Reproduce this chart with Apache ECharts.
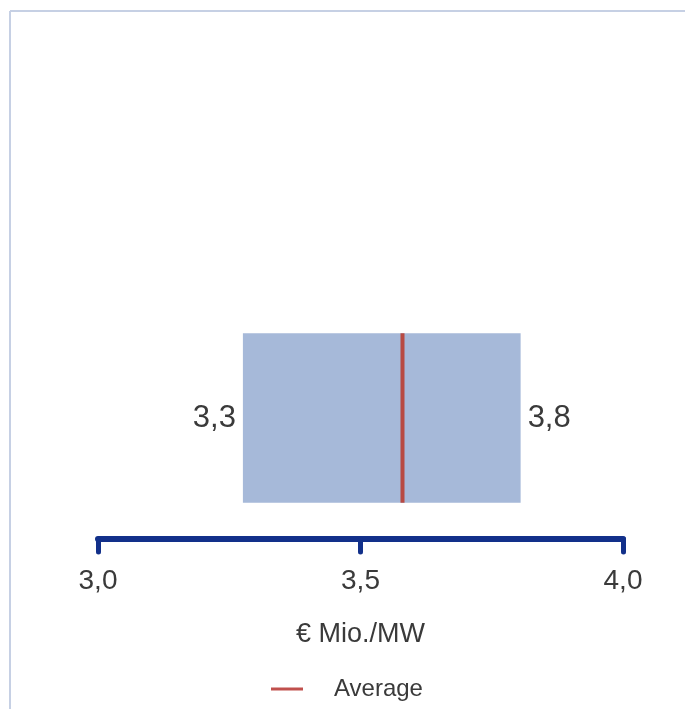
<!DOCTYPE html>
<html>
<head>
<meta charset="utf-8">
<script src="https://cdn.jsdelivr.net/npm/echarts@6/dist/echarts.min.js"></script>
<style>html,body{margin:0;padding:0;background:#fff;}#chart{width:685px;height:709px;}</style>
</head>
<body>
<div id="chart"></div>
<script>
// Data
const categories = [''];
const rangeMin = [3.276];
const rangeMax = [3.805];
const averageValues = [3.58];
const axisMin = 3.0;
const axisMax = 4.0;
const axisInterval = 0.5;
const axisName = '€ Mio./MW';
const legendName = 'Average';

const fmt = v => v.toFixed(1).replace('.', ',');
const FONT = '"Liberation Sans", Arial, sans-serif';
const TEXT = '#3a3a3a';

const chart = echarts.init(document.getElementById('chart'));
chart.setOption({
  animation: false,
  backgroundColor: '#ffffff',
  graphic: [
    { type: 'line', shape: { x1: 10, y1: 11, x2: 685, y2: 11 }, style: { stroke: '#c6d0e4', lineWidth: 2 } },
    { type: 'line', shape: { x1: 10, y1: 11, x2: 10, y2: 709 }, style: { stroke: '#c6d0e4', lineWidth: 2 } }
  ],
  legend: {
    data: [{ name: legendName, icon: 'rect' }],
    left: 266, top: 672,
    itemWidth: 32, itemHeight: 3,
    textStyle: { fontFamily: FONT, fontSize: 24, color: TEXT, padding: [0, 0, 0, 26] }
  },
  grid: { left: 98, right: 62, top: 297, bottom: 170, containLabel: false },
  xAxis: {
    type: 'value', min: axisMin, max: axisMax, interval: axisInterval,
    name: axisName, nameLocation: 'middle', nameGap: 82,
    nameTextStyle: { fontFamily: FONT, fontSize: 27, color: TEXT },
    axisLine: { show: true, lineStyle: { color: '#12308a', width: 6, cap: 'round' } },
    axisTick: { show: true, length: 13, lineStyle: { color: '#12308a', width: 5, cap: 'round' } },
    axisLabel: { formatter: fmt, fontFamily: FONT, fontSize: 28, color: TEXT, margin: 28 },
    splitLine: { show: false }
  },
  yAxis: { type: 'category', data: categories, show: false },
  series: [
    {
      type: 'custom',
      name: 'Range',
      data: categories.map((c, i) => [rangeMin[i], rangeMax[i], i]),
      renderItem: function (params, api) {
        const lo = api.coord([api.value(0), api.value(2)]);
        const hi = api.coord([api.value(1), api.value(2)]);
        const h = api.size([0, 1])[1] * 0.70;
        return {
          type: 'group',
          children: [
            { type: 'rect', shape: { x: lo[0], y: lo[1] - h / 2, width: hi[0] - lo[0], height: h }, style: { fill: '#a6b9d9' } },
            { type: 'text', x: lo[0] - 7, y: lo[1], style: { text: fmt(api.value(0)), font: '31px ' + FONT, fill: TEXT, align: 'right', verticalAlign: 'middle' } },
            { type: 'text', x: hi[0] + 7, y: hi[1], style: { text: fmt(api.value(1)), font: '31px ' + FONT, fill: TEXT, align: 'left', verticalAlign: 'middle' } }
          ]
        };
      },
      z: 2
    },
    {
      type: 'custom',
      name: legendName,
      color: '#c0504d',
      data: categories.map((c, i) => [averageValues[i], i]),
      renderItem: function (params, api) {
        const p = api.coord([api.value(0), api.value(1)]);
        const h = api.size([0, 1])[1] * 0.70;
        return {
          type: 'line',
          shape: { x1: p[0], y1: p[1] - h / 2, x2: p[0], y2: p[1] + h / 2 },
          style: { stroke: '#b84a43', lineWidth: 4 }
        };
      },
      z: 3
    }
  ]
});
</script>
</body>
</html>
